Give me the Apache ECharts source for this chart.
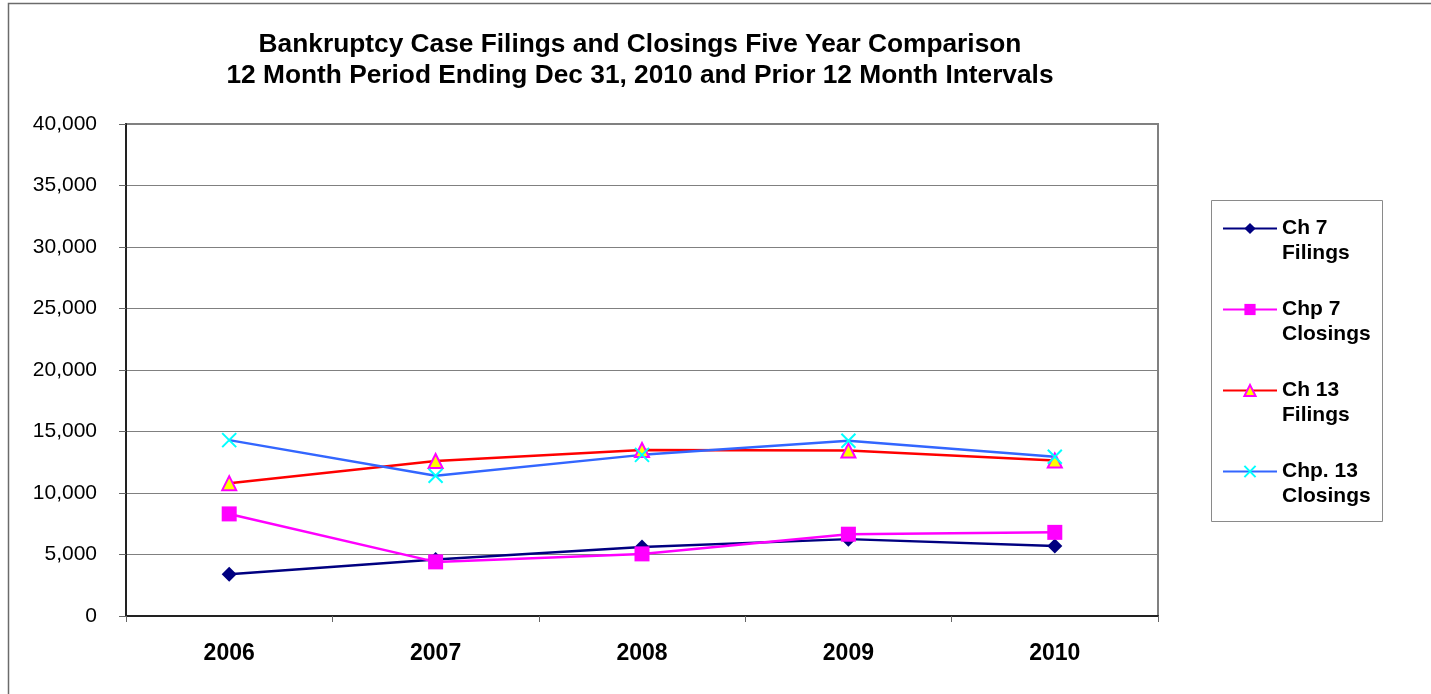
<!DOCTYPE html>
<html>
<head>
<meta charset="utf-8">
<script src="https://cdn.jsdelivr.net/npm/echarts@6/dist/echarts.min.js"></script>
<style>
html,body{margin:0;padding:0;background:#fff;}
#chart{width:1431px;height:694px;}
</style>
</head>
<body>
<div id="chart"></div>
<script>
const categories = ['2006', '2007', '2008', '2009', '2010'];
const ch7Filings = [3400, 4600, 5600, 6250, 5700];
const chp7Closings = [8300, 4400, 5050, 6650, 6800];
const ch13Filings = [10800, 12600, 13500, 13450, 12650];
const chp13Closings = [14300, 11400, 13100, 14250, 12950];
const seriesNames = ['Ch 7\nFilings', 'Chp 7\nClosings', 'Ch 13\nFilings', 'Chp. 13\nClosings'];
const titleLines = ['Bankruptcy Case Filings and Closings Five Year Comparison',
                    '12 Month Period Ending Dec 31, 2010 and Prior 12 Month Intervals'];

const chart = echarts.init(document.getElementById('chart'));
const font = 'Arial, "Liberation Sans", sans-serif';
const xPath = 'path://M0,0L10,10M10,0L0,10';

chart.setOption({
  animation: false,
  backgroundColor: '#fff',
  graphic: [
    { type: 'polyline', silent: true, shape: { points: [[8.5, 700], [8.5, 3.5], [1440, 3.5]] },
      style: { stroke: '#6b6b6b', lineWidth: 1.5, fill: null } },
    { type: 'rect', silent: true, shape: { x: 1211.5, y: 200.5, width: 171, height: 321 },
      style: { stroke: '#8a8a8a', lineWidth: 1, fill: null } },
    { type: 'text', silent: true, x: 640, y: 29,
      style: { text: titleLines.join('\n'), textAlign: 'center', textVerticalAlign: 'top',
        fontFamily: font, fontWeight: 'bold', fontSize: 26.3, lineHeight: 31, fill: '#000' } }
  ],
  legend: {
    orient: 'vertical',
    left: 1222,
    top: 191,
    padding: 0,
    itemGap: 6,
    itemWidth: 54,
    itemHeight: 14,
    formatter: name => ' \n' + name,
    textStyle: { fontFamily: font, fontWeight: 'bold', fontSize: 21, lineHeight: 25, color: '#000' },
    data: seriesNames
  },
  grid: {
    left: 126, right: 273, top: 124, bottom: 78,
    show: true, borderColor: '#808080', borderWidth: 2, backgroundColor: '#fff'
  },
  xAxis: {
    type: 'category',
    data: categories,
    boundaryGap: true,
    axisLine: { lineStyle: { color: '#222', width: 2 } },
    axisTick: { show: true, length: 6, lineStyle: { color: '#666', width: 1 } },
    axisLabel: { margin: 26, fontFamily: font, fontWeight: 'bold', fontSize: 23, color: '#000' },
    splitLine: { show: false }
  },
  yAxis: {
    type: 'value',
    min: 0, max: 40000, interval: 5000,
    axisLine: { show: true, lineStyle: { color: '#222', width: 2 } },
    axisTick: { show: true, length: 7, lineStyle: { color: '#666', width: 1 } },
    axisLabel: { margin: 29, fontFamily: font, fontSize: 21, color: '#000',
      formatter: v => v.toLocaleString('en-US') },
    splitLine: { show: true, lineStyle: { color: '#808080', width: 1 } }
  },
  series: [
    { name: seriesNames[0], type: 'line', data: ch7Filings,
      symbol: 'diamond', symbolSize: 15,
      lineStyle: { color: '#000080', width: 2.5 },
      itemStyle: { color: '#000080' } },
    { name: seriesNames[1], type: 'line', data: chp7Closings,
      symbol: 'rect', symbolSize: 15,
      lineStyle: { color: '#ff00ff', width: 2.5 },
      itemStyle: { color: '#ff00ff' } },
    { name: seriesNames[2], type: 'line', data: ch13Filings,
      symbol: 'triangle', symbolSize: 14,
      lineStyle: { color: '#ff0000', width: 2.5 },
      itemStyle: { color: '#ffff00', borderColor: '#ff00ff', borderWidth: 2 } },
    { name: seriesNames[3], type: 'line', data: chp13Closings,
      symbol: xPath, symbolSize: 14,
      lineStyle: { color: '#3366ff', width: 2.5 },
      itemStyle: { color: 'rgba(0,0,0,0)', borderColor: '#00ffff', borderWidth: 2 } }
  ]
});
</script>
</body>
</html>
